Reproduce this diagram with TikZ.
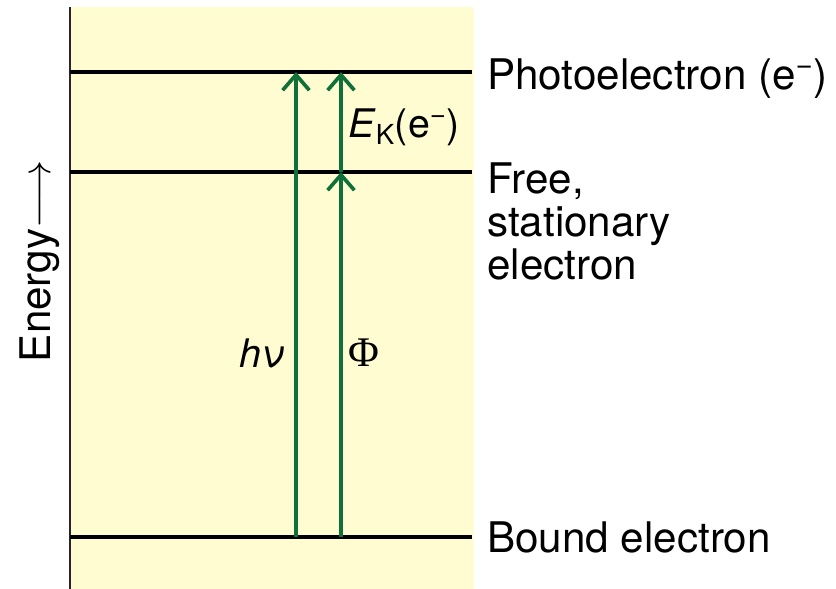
\RequirePackage{fix-cm}
\documentclass[tikz,border=0pt]{standalone}
\usepackage{fontspec}
\setmainfont{TeX Gyre Heros}
\newfontfamily\phifont{Liberation Serif}
\usepackage{amsmath}
\usepackage{tikz}
\usetikzlibrary{arrows.meta, positioning}
\definecolor{mygreen}{RGB}{16,112,58}
\definecolor{bgyellow}{RGB}{254,252,208}
\tikzset{
  level/.style={line width=2.6pt, color=black},
  axisline/.style={line width=1.4pt, color=black!85},
  jump/.style={-{Straight Barb[length=11pt, width=19pt]}, line width=2.6pt, color=mygreen},
  lbl/.style={font=\fontsize{30}{30.6}\selectfont, inner sep=0pt, anchor=base west, align=left},
  sym/.style={font=\fontsize{28}{30}\selectfont, inner sep=0pt}
}
\begin{document}
\begin{tikzpicture}
  \useasboundingbox (0,0) rectangle (20.9,14.725);
  \fill[bgyellow] (1.75,0) rectangle (11.85,14.55);
  \coordinate (axb) at (1.75,0);
  \coordinate (axt) at (1.75,14.55);
  \draw[axisline] (axb) -- (axt);
  \coordinate (photoL) at (1.75,12.925);
  \coordinate (photoR) at (11.8,12.925);
  \coordinate (freeL) at (1.75,10.425);
  \coordinate (freeR) at (11.8,10.425);
  \coordinate (boundL) at (1.75,1.3);
  \coordinate (boundR) at (11.8,1.3);
  \draw[level] (photoL) -- (photoR);
  \draw[level] (freeL) -- (freeR);
  \draw[level] (boundL) -- (boundR);
  \coordinate (hvB) at (7.4,1.3);
  \coordinate (hvT) at (7.4,12.925);
  \coordinate (phiB) at (8.525,1.3);
  \coordinate (phiM) at (8.525,10.425);
  \coordinate (phiT) at (8.525,12.925);
  \draw[jump] (hvB) -- (hvT);
  \draw[jump] (phiB) -- (phiM);
  \draw[jump] (phiM) -- (phiT);
  \node[lbl] (photo) at (12.175,12.475) {Photoelectron (e\textsuperscript{−})};
  \node[lbl] (free) at (12.175,7.725) {Free,\\stationary\\electron};
  \node[lbl] (bound) at (12.175,0.9) {Bound electron};
  \node[sym, anchor=base west] (ek) at (8.7,11.275) {\textit{E}\textsubscript{K}(e\textsuperscript{−})};
  \node[sym, anchor=base east] (hv) at (7.125,5.525) {\textit{hν}};
  \node[sym, anchor=base west] (phi) at (8.7,5.55) {\phifont\fontsize{30}{30}\selectfont Φ};
  \node[font=\fontsize{30}{30}\selectfont, rotate=90, inner sep=0pt, anchor=base] (energy) at (1.25,8.19) {Energy$\longrightarrow$};
\end{tikzpicture}
\end{document}
